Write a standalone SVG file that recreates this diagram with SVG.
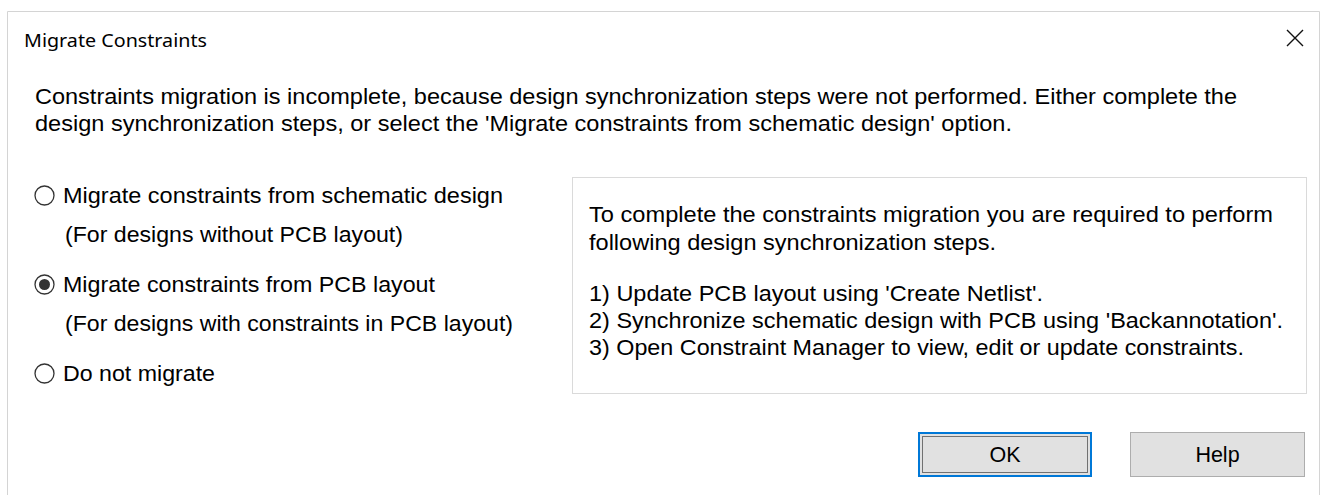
<svg xmlns="http://www.w3.org/2000/svg" width="1323" height="495" viewBox="0 0 1323 495">
<style>
.t{font-family:"Liberation Sans",Arial,sans-serif;font-size:21.5px;fill:#000}
.title{font-family:"Noto Sans","Liberation Sans",sans-serif;font-size:18.5px;fill:#000}
.radio{fill:#fff;stroke:#333;stroke-width:1.3}
.btn{fill:#e1e1e1}
</style>
<rect x="0" y="0" width="1323" height="495" fill="#fff"/>
<g id="window">
<path d="M7.5 495 V11.5 H1319.5 V495" fill="none" stroke="#d4d4d4" stroke-width="1"/>
<text class="title" x="24" y="47" textLength="183" lengthAdjust="spacingAndGlyphs">Migrate Constraints</text>
<path d="M1287 30 L1303 46 M1303 30 L1287 46" stroke="#111" stroke-width="1.4" fill="none"/>
</g>
<g id="message">
<text class="t" x="35" y="104" textLength="1202" lengthAdjust="spacingAndGlyphs">Constraints migration is incomplete, because design synchronization steps were not performed. Either complete the</text>
<text class="t" x="35" y="131" textLength="977" lengthAdjust="spacingAndGlyphs">design synchronization steps, or select the 'Migrate constraints from schematic design' option.</text>
</g>
<g id="option-schematic">
<circle class="radio" cx="44.5" cy="195.5" r="9.5"/>
<text class="t" x="63" y="203" textLength="440" lengthAdjust="spacingAndGlyphs">Migrate constraints from schematic design</text>
<text class="t" x="65" y="242" textLength="338" lengthAdjust="spacingAndGlyphs">(For designs without PCB layout)</text>
</g>
<g id="option-pcb">
<circle class="radio" cx="44.5" cy="284.5" r="9.5"/>
<circle cx="44.5" cy="284.5" r="5.5" fill="#333"/>
<text class="t" x="63" y="292" textLength="372" lengthAdjust="spacingAndGlyphs">Migrate constraints from PCB layout</text>
<text class="t" x="65" y="331" textLength="448" lengthAdjust="spacingAndGlyphs">(For designs with constraints in PCB layout)</text>
</g>
<g id="option-none">
<circle class="radio" cx="44.5" cy="373.5" r="9.5"/>
<text class="t" x="63" y="381" textLength="152" lengthAdjust="spacingAndGlyphs">Do not migrate</text>
</g>
<g id="info-box">
<rect x="572.5" y="177.5" width="734" height="216" fill="#fff" stroke="#dadada" stroke-width="1"/>
<text class="t" x="589" y="222" textLength="684" lengthAdjust="spacingAndGlyphs">To complete the constraints migration you are required to perform</text>
<text class="t" x="589" y="250" textLength="407" lengthAdjust="spacingAndGlyphs">following design synchronization steps.</text>
<text class="t" x="589" y="301" textLength="454" lengthAdjust="spacingAndGlyphs">1) Update PCB layout using 'Create Netlist'.</text>
<text class="t" x="589" y="328" textLength="694" lengthAdjust="spacingAndGlyphs">2) Synchronize schematic design with PCB using 'Backannotation'.</text>
<text class="t" x="589" y="355" textLength="655" lengthAdjust="spacingAndGlyphs">3) Open Constraint Manager to view, edit or update constraints.</text>
</g>
<g id="btn-ok">
<rect class="btn" x="919" y="433" width="172" height="43" stroke="#0078d7" stroke-width="2"/>
<rect x="922.5" y="436.5" width="165" height="36" fill="none" stroke="#000" stroke-width="1" stroke-dasharray="1,1"/>
<text class="t" x="1005" y="462" text-anchor="middle">OK</text>
</g>
<g id="btn-help">
<rect class="btn" x="1130.5" y="432.5" width="174" height="44" stroke="#adadad" stroke-width="1"/>
<text class="t" x="1217.5" y="462" text-anchor="middle">Help</text>
</g>
<g id="connectors"></g>
</svg>
